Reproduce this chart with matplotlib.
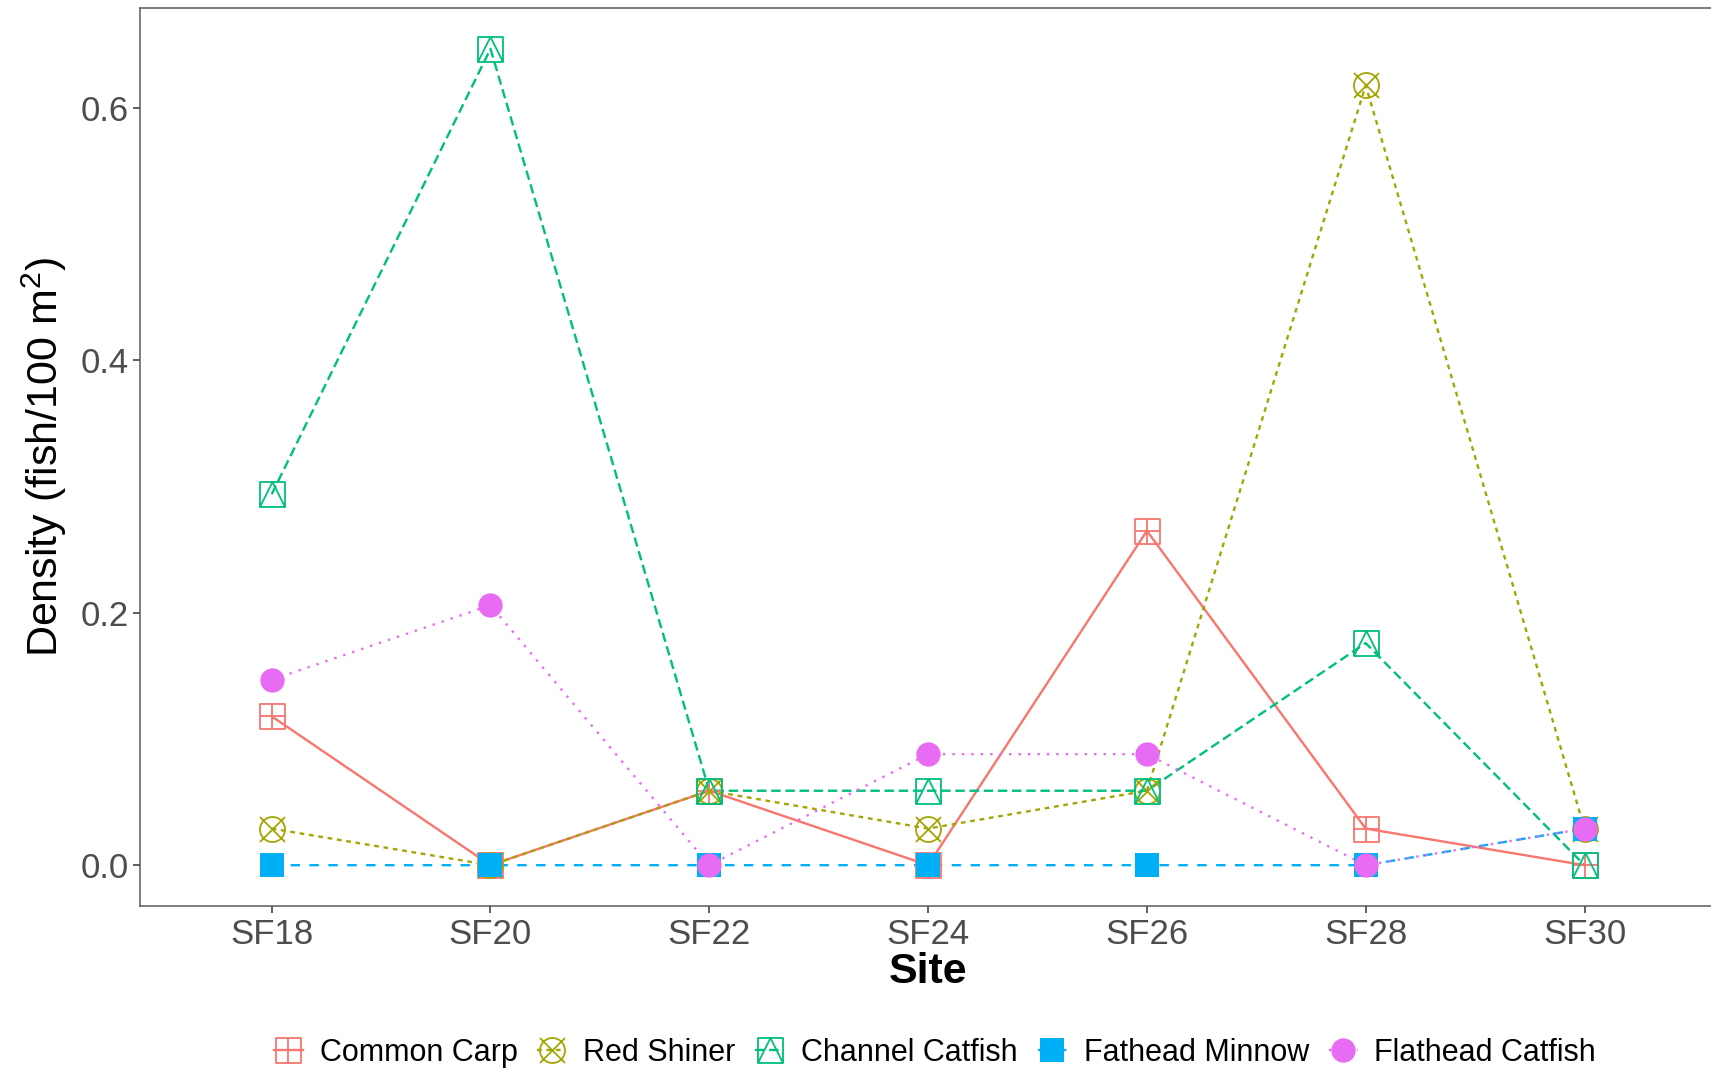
import numpy as np
import matplotlib
matplotlib.use("Agg")
import matplotlib.pyplot as plt
from matplotlib.path import Path
from matplotlib.lines import Line2D

plt.rcParams['font.family'] = ['Liberation Sans', 'DejaVu Sans']
plt.rcParams['mathtext.default'] = 'regular'

# fish density by site (fish / 100 m^2)
sites = ['SF18', 'SF20', 'SF22', 'SF24', 'SF26', 'SF28', 'SF30']
species = ['Common Carp', 'Red Shiner', 'Channel Catfish', 'Fathead Minnow', 'Flathead Catfish']

common_carp = [0.118, 0.0, 0.059, 0.0, 0.265, 0.029, 0.0]
red_shiner = [0.029, 0.0, 0.059, 0.029, 0.059, 0.618, 0.029]
channel_catfish = [0.294, 0.647, 0.059, 0.059, 0.059, 0.176, 0.0]
fathead_minnow = [0.0, 0.0, 0.0, 0.0, 0.0, 0.0, 0.029]
flathead_catfish = [0.147, 0.206, 0.0, 0.088, 0.088, 0.0, 0.029]

yticks = [0.0, 0.2, 0.4, 0.6]

M, L, C = Path.MOVETO, Path.LINETO, Path.CLOSEPOLY

# open square with a plus inside
sq_plus = Path([(-1, -1), (1, -1), (1, 1), (-1, 1), (-1, -1),
                (0, -1), (0, 1), (-1, 0), (1, 0)],
               [M, L, L, L, C, M, L, M, L])
# circle with a cross
circ_x = Path.make_compound_path(
    Path.unit_circle(),
    Path([(-1, -1), (1, 1), (-1, 1), (1, -1)], [M, L, M, L]))
# open square with a triangle inside
sq_tri = Path([(-1, -1), (1, -1), (1, 1), (-1, 1), (-1, -1),
               (-1, -1), (0, 1), (1, -1)],
              [M, L, L, L, C, M, L, L])

colors = ['#F8766D', '#A3A500', '#00BF7D', '#00B0F6', '#E76BF3']
dashes = [(None), (2, 2), (4, 2), (4, 4), (1, 3)]
series = [common_carp, red_shiner, channel_catfish, fathead_minnow, flathead_catfish]
marker_kw = [
    dict(marker=sq_plus, markersize=18, markerfacecolor='none', markeredgewidth=1.3),
    dict(marker=circ_x, markersize=18, markerfacecolor='none', markeredgewidth=1.3),
    dict(marker=sq_tri, markersize=18, markerfacecolor='none', markeredgewidth=1.3),
    dict(marker='s', markersize=17.5, markeredgewidth=0),
    dict(marker='o', markersize=17.5, markeredgewidth=0),
]

W, H = 1711, 1071
fig = plt.figure(figsize=(W / 100, H / 100), dpi=100)
left, right, top, bottom = 140.4, 1715.8, 8, 906
ax = fig.add_axes([left / W, 1 - bottom / H, (right - left) / W, (bottom - top) / H])

x = np.arange(len(sites))
lw = 1.7

# lines first, then points on top (ggplot layer order)
for vals, col, d in zip(series, colors, dashes):
    ln, = ax.plot(x, vals, color=col, lw=lw, zorder=2)
    if d is not None:
        ln.set_dashes(d)
for vals, col, mk in zip(series, colors, marker_kw):
    ax.plot(x, vals, linestyle='none', color=col, markeredgecolor=col, zorder=3, **mk)

ymax = max(max(s) for s in series)
ax.set_xlim(-0.6, len(sites) - 0.4)
ax.set_ylim(-0.05 * ymax, ymax * 1.05)

ax.set_xticks(x)
ax.set_xticklabels(sites)
ax.set_yticks(yticks)
ax.set_yticklabels(['%.1f' % v for v in yticks])
ax.tick_params(labelsize=25, labelcolor='#4D4D4D', color='#333333',
               length=5, width=1.1, pad=3.5)

for sp in ax.spines.values():
    sp.set_color('#5A5A5A')
    sp.set_linewidth(1.1)

ax.set_xlabel('Site', fontsize=31, fontweight='bold', va='center')
ax.xaxis.set_label_coords(0.5, -(972 - bottom) / (bottom - top))
ax.set_ylabel('Density (fish/100 m$^2$)', fontsize=31, va='center')
ax.yaxis.set_label_coords((44 - left) / (right - left), 0.5)

handles = []
for col, d, mk in zip(colors, dashes, marker_kw):
    h = Line2D([], [], color=col, lw=lw, markeredgecolor=col, **mk)
    if d is not None:
        h.set_dashes(d)
    handles.append(h)

fig.legend(handles, species, loc='center', bbox_to_anchor=(935 / W, 1 - 1053 / H),
           ncol=5, frameon=False, fontsize=22, handlelength=0.95,
           handletextpad=0.55, columnspacing=0.65, borderaxespad=0)

fig.savefig('out.png', dpi=100)
